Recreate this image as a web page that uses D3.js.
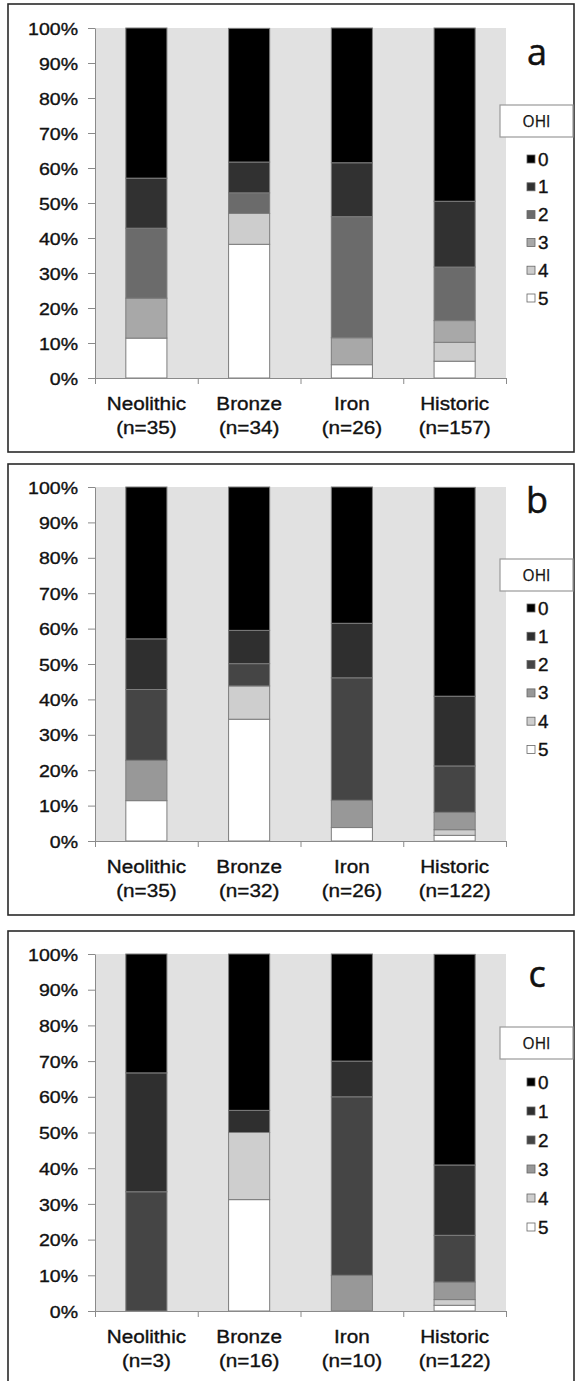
<!DOCTYPE html>
<html>
<head>
<meta charset="utf-8">
<script src="https://cdn.jsdelivr.net/npm/d3@7"></script>
<style>
  html, body { margin: 0; padding: 0; background: #fff; }
  svg { display: block; }
  text { font-family: "Liberation Sans", Arial, sans-serif; fill: #111; stroke: #111; stroke-width: 0.35px; }
</style>
</head>
<body>
<svg id="chart" width="575" height="1381"></svg>
<script>
// ---------- DATA ----------
const categories = ["Neolithic", "Bronze", "Iron", "Historic"];
const ohiLevels = ["0", "1", "2", "3", "4", "5"];
const yTicks = [0, 10, 20, 30, 40, 50, 60, 70, 80, 90, 100];

// panel a
const nA = [35, 34, 26, 157];
const a0 = [42.9, 38.2, 38.5, 49.5];
const a1 = [14.3, 8.8, 15.4, 18.8];
const a2 = [20.0, 5.9, 34.6, 15.3];
const a3 = [11.4, 0, 7.7, 6.2];
const a4 = [0, 8.8, 0, 5.4];
const a5 = [11.4, 38.2, 3.8, 4.8];

// panel b
const nB = [35, 32, 26, 122];
const b0 = [42.9, 40.6, 38.5, 59.0];
const b1 = [14.3, 9.4, 15.4, 19.7];
const b2 = [20.0, 6.3, 34.6, 13.1];
const b3 = [11.4, 0, 7.7, 4.9];
const b4 = [0, 9.4, 0, 1.6];
const b5 = [11.4, 34.4, 3.8, 1.6];

// panel c
const nC = [3, 16, 10, 122];
const c0 = [33.3, 43.8, 30.0, 59.0];
const c1 = [33.3, 6.2, 10.0, 19.7];
const c2 = [33.4, 0, 50.0, 13.1];
const c3 = [0, 0, 10.0, 4.9];
const c4 = [0, 18.8, 0, 1.6];
const c5 = [0, 31.2, 0, 1.6];

// colours per OHI level
const coloursA = ["#000000", "#313131", "#6b6b6b", "#a8a8a8", "#cdcdcd", "#ffffff"];
const coloursBC = ["#000000", "#2f2f2f", "#454545", "#989898", "#cecece", "#ffffff"];

// ---------- LAYOUT ----------
const panels = [
  { letter: "a", n: nA, series: [a0, a1, a2, a3, a4, a5], colours: coloursA,
    top: 4, bottom: 452, plotTop: 28, plotBottom: 378, letterY: 65,
    legBoxTop: 105, legY0: 159, legStep: 27.8 },
  { letter: "b", n: nB, series: [b0, b1, b2, b3, b4, b5], colours: coloursBC,
    top: 464, bottom: 915, plotTop: 487, plotBottom: 841, letterY: 513,
    legBoxTop: 559, legY0: 608, legStep: 28.3 },
  { letter: "c", n: nC, series: [c0, c1, c2, c3, c4, c5], colours: coloursBC,
    top: 931, bottom: 1400, plotTop: 954, plotBottom: 1311, letterY: 987,
    legBoxTop: 1027, legY0: 1082, legStep: 29 }
];

const plotLeft = 95, plotRight = 506;
const SX = 1.15; // horizontal stretch of the reference lettering

const svg = d3.select("#chart");

const x = d3.scaleBand().domain(categories).range([plotLeft, plotRight])
  .paddingInner(0.6).paddingOuter(0.3);
const xb = d3.scaleLinear().domain([0, categories.length]).range([plotLeft, plotRight]);

panels.forEach(p => {
  const g = svg.append("g");

  // panel frame
  g.append("rect")
    .attr("x", 8).attr("y", p.top)
    .attr("width", 566).attr("height", p.bottom - p.top)
    .attr("fill", "none").attr("stroke", "#2a2a2a").attr("stroke-width", 1.6);

  const y = d3.scaleLinear().domain([0, 100]).range([p.plotBottom, p.plotTop]);

  // plot background
  g.append("rect")
    .attr("x", plotLeft).attr("y", p.plotTop)
    .attr("width", plotRight - plotLeft).attr("height", p.plotBottom - p.plotTop)
    .attr("fill", "#e1e1e1");

  // stack data
  const rows = categories.map((c, i) => {
    const r = { cat: c };
    ohiLevels.forEach((k, j) => r[k] = p.series[j][i]);
    return r;
  });
  const stackKeys = ohiLevels.slice().reverse(); // 5 at bottom ... 0 on top
  const stacked = d3.stack().keys(stackKeys)(rows);

  const layer = g.selectAll("g.layer").data(stacked).join("g")
    .attr("class", "layer")
    .attr("fill", d => p.colours[+d.key]);

  layer.selectAll("rect")
    .data(d => d.filter(s => s[1] - s[0] > 0.001))
    .join("rect")
    .attr("x", d => x(d.data.cat))
    .attr("width", x.bandwidth())
    .attr("y", d => y(Math.min(100, d[1])))
    .attr("height", d => y(d[0]) - y(Math.min(100, d[1])))
    .attr("stroke", "#7d7d7d").attr("stroke-width", 1);

  // y axis
  const ya = g.append("g")
    .attr("transform", `translate(${plotLeft},0)`)
    .call(d3.axisLeft(y).tickValues(yTicks).tickFormat(d => d + "%")
      .tickSize(7).tickSizeOuter(0));
  ya.select(".domain").attr("stroke", "#8a8a8a");
  ya.selectAll(".tick line").attr("stroke", "#8a8a8a");
  ya.selectAll(".tick text")
    .attr("x", null).attr("dy", "0.36em")
    .attr("transform", `translate(-17,0) scale(${SX},1)`)
    .style("font-size", "17px").attr("fill", "#111")
    .attr("text-anchor", "end").attr("font-family", null);

  // x axis with boundary ticks
  const xa = g.append("g")
    .attr("transform", `translate(0,${p.plotBottom})`)
    .call(d3.axisBottom(xb).tickValues(d3.range(0, categories.length + 1))
      .tickFormat("").tickSize(6).tickSizeOuter(0));
  xa.select(".domain").attr("stroke", "#8a8a8a");
  xa.selectAll(".tick line").attr("stroke", "#8a8a8a");

  // category labels
  const lab = g.selectAll("g.xlab").data(categories).join("g")
    .attr("class", "xlab")
    .attr("transform", d => `translate(${x(d) + x.bandwidth() / 2},${p.plotBottom})`);
  lab.append("text")
    .attr("text-anchor", "middle")
    .attr("transform", `translate(0,32) scale(1.12,1)`)
    .style("font-size", "18.5px")
    .text(d => d);
  lab.append("text")
    .attr("text-anchor", "middle")
    .attr("transform", `translate(0,56) scale(1.12,1)`)
    .style("font-size", "18.5px")
    .text((d, i) => `(n=${p.n[i]})`);

  // panel letter
  g.append("text")
    .attr("text-anchor", "middle")
    .attr("transform", `translate(537,${p.letterY})`)
    .style("font-family", "'Open Sans', 'Liberation Sans', sans-serif")
    .style("font-size", "36px")
    .style("stroke-width", "0.5px")
    .text(p.letter);

  // legend title box
  g.append("rect")
    .attr("x", 500).attr("y", p.legBoxTop)
    .attr("width", 73).attr("height", 32)
    .attr("fill", "#fff").attr("stroke", "#9a9a9a").attr("stroke-width", 1.2);
  g.append("text")
    .attr("text-anchor", "middle")
    .attr("transform", `translate(536.5,${p.legBoxTop + 22})`)
    .style("font-family", "'Open Sans', 'Liberation Sans', sans-serif")
    .style("font-size", "15.5px")
    .style("stroke-width", "0.25px")
    .text("OHI");

  // legend items
  const li = g.selectAll("g.leg").data(ohiLevels).join("g")
    .attr("class", "leg")
    .attr("transform", (d, i) => `translate(527,${p.legY0 + i * p.legStep})`);
  li.append("rect")
    .attr("x", 0).attr("y", -4).attr("width", 8).attr("height", 8)
    .attr("fill", (d, i) => p.colours[i])
    .attr("stroke", "#666").attr("stroke-width", 0.8);
  li.append("text")
    .attr("transform", `translate(11,6.5) scale(1.05,1)`)
    .style("font-size", "18px")
    .text(d => d);
});
</script>
</body>
</html>
